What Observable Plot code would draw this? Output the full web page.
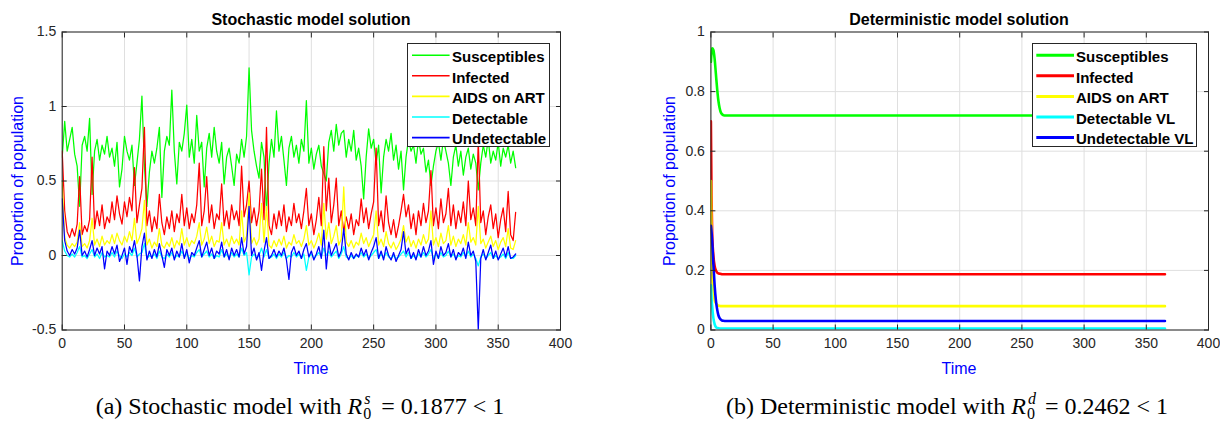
<!DOCTYPE html>
<html><head><meta charset="utf-8">
<script src="https://cdn.jsdelivr.net/npm/d3@7"></script>
<script src="https://cdn.jsdelivr.net/npm/@observablehq/plot@0.6"></script>
<style>
html,body{margin:0;padding:0;background:#fff;}
#root{position:relative;width:1220px;height:422px;overflow:hidden;font-family:"Liberation Sans",Arial,Helvetica,sans-serif;}
.panel{position:absolute;top:0;width:610px;height:422px;}
.panel > svg{position:absolute;left:0;top:0;}
.ctr{position:absolute;transform:translate(-50%,-50%);white-space:nowrap;line-height:1;}
.title{font-weight:bold;font-size:16px;color:#000;}
.axlab{font-size:16px;color:#0000ff;}
.ylab{transform:translate(-50%,-50%) rotate(-90deg);}
.cap{font-family:"Liberation Serif","Times New Roman",serif;font-size:24px;color:#000;}
.ss{display:inline-block;position:relative;width:13px;height:24px;vertical-align:baseline;}
.ss .sup{position:absolute;left:2px;top:1px;font-size:16px;line-height:16px;font-style:italic;}
.ss .sub{position:absolute;left:1px;top:16px;font-size:16px;line-height:16px;}
.legend{position:absolute;background:#fff;border:1px solid #262626;box-sizing:border-box;}
.legend svg.lns{position:absolute;left:0;top:0;}
.legend .tx{position:absolute;font-weight:bold;font-size:15px;color:#000;line-height:1;transform:translateY(-50%);white-space:nowrap;}
</style>
</head><body>
<div id="root">
  <div class="panel" id="pa" style="left:0px"></div>
  <div class="panel" id="pb" style="left:610px"></div>
</div>
<script>
// ---------- shared ticks / names / colours ----------
const xTicks = [0, 50, 100, 150, 200, 250, 300, 350, 400];
const yTicksS = [-0.5, 0, 0.5, 1, 1.5];
const yTicksD = [0, 0.2, 0.4, 0.6, 0.8, 1];
const stochNames = ["Susceptibles", "Infected", "AIDS on ART", "Detectable", "Undetectable"];
const detNames = ["Susceptibles", "Infected", "AIDS on ART", "Detectable VL", "Undetectable VL"];
const seriesColors = ["#00ff00", "#ff0000", "#ffff00", "#00ffff", "#0000ff"];

const stochDays = d3.range(0, 365, 2);
const susceptiblesS = [
0.66,0.90,0.70,0.78,0.86,0.68,0.60,0.33,0.74,0.80,
0.70,0.92,0.41,0.70,0.78,0.64,0.74,0.68,0.80,0.66,
0.72,0.60,0.76,0.46,0.58,0.80,0.70,0.64,0.74,0.47,
0.62,0.78,1.07,0.60,0.33,0.56,0.70,0.62,0.72,0.86,
0.39,0.70,0.80,0.74,1.11,0.70,0.48,0.76,0.70,0.82,
1.01,0.66,0.78,0.62,0.94,0.70,0.76,0.46,0.72,0.82,
0.66,0.86,0.70,0.62,0.76,0.48,0.66,0.72,0.60,0.47,
0.68,0.62,0.78,0.66,0.80,1.26,0.84,0.70,0.60,0.52,
0.76,0.66,0.30,0.62,0.78,0.66,0.97,0.70,0.80,0.64,
0.47,0.72,0.80,0.66,0.74,0.62,0.78,0.70,1.04,0.62,
0.72,0.58,0.68,0.74,0.60,0.55,0.50,0.76,0.84,0.70,
0.88,0.74,0.82,0.84,0.66,0.78,0.70,0.84,0.64,0.72,
0.60,0.38,0.66,0.85,0.72,0.78,0.62,0.74,0.42,0.66,
0.78,0.70,0.82,0.64,0.74,0.58,0.70,0.44,0.66,0.78,
0.70,0.74,0.62,0.78,0.68,0.72,0.56,0.64,0.47,0.60,
0.70,0.76,0.64,0.78,0.70,0.62,0.47,0.66,0.74,0.60,
0.70,0.54,0.66,0.72,0.58,0.68,0.62,0.44,0.62,0.74,
0.66,0.78,0.62,0.70,0.64,0.76,0.60,0.72,0.66,0.74,
0.62,0.70,0.59];
const infectedS = [
0.70,0.30,0.16,0.12,0.18,0.13,0.21,0.53,0.14,0.20,
0.16,0.24,0.66,0.18,0.30,0.20,0.34,0.18,0.26,0.22,
0.36,0.24,0.40,0.28,0.21,0.36,0.26,0.39,0.30,0.59,
0.22,0.34,0.45,0.86,0.20,0.30,0.16,0.26,0.18,0.41,
0.22,0.14,0.26,0.18,0.30,0.16,0.28,0.22,0.41,0.20,
0.32,0.18,0.28,0.22,0.34,0.62,0.20,0.30,0.53,0.22,
0.34,0.18,0.28,0.24,0.48,0.20,0.30,0.18,0.34,0.24,
0.30,0.20,0.60,0.26,0.34,0.50,0.22,0.32,0.20,0.30,
0.58,0.24,0.86,0.20,0.14,0.28,0.18,0.30,0.20,0.34,
0.16,0.26,0.20,0.35,0.22,0.28,0.18,0.30,0.45,0.20,
0.28,0.14,0.24,0.39,0.20,0.73,0.30,0.52,0.22,0.34,
0.52,0.20,0.30,0.16,0.26,0.18,0.28,0.14,0.24,0.20,
0.38,0.22,0.32,0.18,0.28,0.36,0.72,0.20,0.30,0.16,
0.40,0.22,0.14,0.24,0.12,0.20,0.30,0.41,0.26,0.34,
0.18,0.28,0.14,0.30,0.20,0.35,0.22,0.30,0.57,0.20,
0.32,0.18,0.38,0.22,0.28,0.45,0.20,0.34,0.18,0.30,
0.22,0.36,0.20,0.50,0.24,0.32,0.20,0.77,0.22,0.30,
0.14,0.26,0.34,0.18,0.28,0.12,0.24,0.32,0.16,0.43,
0.14,0.10,0.29];
const aidsS = [
0.50,0.12,0.07,0.05,0.08,0.06,0.09,0.22,0.06,0.08,
0.05,0.10,0.25,0.07,0.11,0.06,0.13,0.07,0.10,0.08,
0.14,0.08,0.15,0.10,0.07,0.13,0.09,0.16,0.10,0.25,
0.08,0.12,0.18,0.37,0.07,0.11,0.05,0.09,0.06,0.18,
0.07,0.05,0.09,0.06,0.12,0.05,0.10,0.07,0.18,0.07,
0.12,0.06,0.10,0.08,0.13,0.22,0.07,0.11,0.19,0.08,
0.13,0.06,0.10,0.09,0.22,0.07,0.11,0.06,0.13,0.08,
0.11,0.07,0.30,0.09,0.13,0.42,0.08,0.12,0.07,0.11,
0.35,0.09,0.33,0.07,0.05,0.10,0.06,0.11,0.07,0.13,
0.05,0.09,0.07,0.14,0.08,0.10,0.06,0.11,0.20,0.07,
0.10,0.05,0.09,0.15,0.07,0.35,0.11,0.22,0.08,0.13,
0.20,0.07,0.11,0.46,0.09,0.06,0.10,0.05,0.09,0.07,
0.15,0.08,0.12,0.06,0.10,0.14,0.30,0.07,0.11,0.06,
0.16,0.08,0.05,0.09,0.04,0.07,0.11,0.20,0.09,0.13,
0.06,0.10,0.05,0.11,0.07,0.14,0.08,0.11,0.30,0.07,
0.12,0.06,0.15,0.08,0.10,0.20,0.07,0.13,0.06,0.11,
0.08,0.14,0.07,0.22,0.09,0.12,0.07,0.33,0.08,0.11,
0.05,0.09,0.13,0.06,0.10,0.04,0.09,0.12,0.06,0.18,
0.05,0.04,0.10];
const detectableS = [
0.10,0.03,0.00,-0.01,0.01,-0.01,0.02,0.06,-0.01,0.00,
-0.02,0.01,0.04,-0.01,0.01,-0.02,0.02,-0.01,0.00,-0.01,
0.02,-0.01,0.03,0.00,-0.02,0.01,-0.01,0.02,0.00,0.05,
-0.01,0.01,0.02,0.08,-0.02,0.00,-0.01,0.01,-0.02,0.03,
-0.01,-0.02,0.01,-0.01,0.02,-0.02,0.00,-0.01,0.03,-0.01,
0.01,-0.02,0.00,-0.01,0.02,0.04,-0.01,0.01,0.03,-0.01,
0.01,-0.02,0.00,-0.01,0.04,-0.01,0.01,-0.02,0.02,-0.01,
0.01,-0.01,0.05,0.00,0.02,-0.13,-0.01,0.01,-0.02,0.00,
0.05,-0.01,0.04,-0.02,-0.01,0.01,-0.02,0.01,-0.01,0.02,
-0.02,0.00,-0.01,0.02,-0.01,0.01,-0.02,0.01,-0.10,-0.01,
0.01,-0.02,0.00,0.02,-0.01,0.05,0.00,0.03,-0.01,0.01,
0.03,-0.02,0.01,0.06,-0.01,-0.02,0.00,-0.02,0.00,-0.01,
0.02,-0.01,0.01,-0.02,0.00,0.02,0.04,-0.02,0.01,-0.02,
0.02,-0.01,-0.02,0.00,-0.02,-0.01,0.01,0.03,-0.01,0.02,
-0.02,0.00,-0.02,0.01,-0.01,0.02,-0.01,0.01,0.04,-0.02,
0.01,-0.02,0.02,-0.01,0.00,0.03,-0.01,0.01,-0.02,0.00,
-0.01,0.02,-0.01,0.03,-0.01,0.01,-0.02,-0.07,-0.01,0.01,
-0.02,0.00,0.02,-0.02,0.00,-0.02,-0.01,0.01,-0.02,0.02,
-0.02,-0.02,0.00];
const undetectableS = [
0.38,0.10,0.03,0.00,0.04,0.01,0.05,0.17,0.00,0.03,
-0.01,0.04,0.10,0.00,0.05,0.01,0.06,-0.09,0.03,0.00,
0.06,0.01,0.07,-0.04,0.00,0.05,-0.06,0.06,0.02,0.10,
0.00,-0.17,0.06,0.15,-0.03,0.03,-0.02,0.04,-0.01,0.08,
0.00,-0.08,0.04,0.00,0.05,-0.03,0.03,-0.01,0.08,-0.02,
0.04,-0.05,0.02,0.00,0.05,0.10,-0.01,0.04,0.09,0.00,
0.05,-0.02,0.03,0.01,0.09,-0.01,0.04,-0.03,0.05,0.00,
0.04,-0.01,0.12,0.01,0.06,0.33,0.00,0.05,-0.03,0.02,
-0.10,0.03,0.12,-0.02,0.00,0.04,-0.01,0.03,0.00,0.05,
-0.03,-0.16,0.02,0.06,0.00,0.03,-0.02,0.04,0.08,-0.01,
0.03,-0.03,0.01,0.06,-0.02,0.17,-0.09,0.09,0.00,0.04,
0.08,-0.01,0.03,0.18,0.01,-0.03,0.02,-0.02,0.01,-0.01,
0.05,0.00,0.04,-0.03,0.02,0.06,0.12,-0.02,0.03,-0.03,
0.06,0.00,-0.03,0.02,-0.04,0.00,0.04,0.16,0.01,0.05,
-0.02,0.02,-0.03,0.04,-0.01,0.06,0.00,0.03,0.10,-0.06,
0.03,-0.02,0.06,0.00,0.02,0.08,-0.01,0.04,-0.03,0.02,
0.00,0.05,-0.02,0.09,0.00,0.03,-0.04,-0.50,-0.02,0.04,
-0.03,0.02,0.07,-0.02,0.03,-0.03,0.01,0.05,-0.01,0.06,
-0.02,-0.01,0.01];

// ---------- deterministic model ----------
const detTime = [0, 0.5, 1, 2, 3, 4, 5, 6, 7, 8, 9, 10, 12, 15, 365];
const susceptiblesD = [0.90,0.93,0.945,0.94,0.91,0.86,0.81,0.77,0.745,0.73,0.724,0.721,0.72,0.72,0.72];
const infectedD     = [0.70,0.45,0.33,0.25,0.215,0.20,0.193,0.19,0.189,0.188,0.187,0.187,0.187,0.187,0.187];
const aidsD         = [0.50,0.30,0.20,0.13,0.10,0.09,0.085,0.082,0.081,0.08,0.08,0.08,0.08,0.08,0.08];
const detectableD   = [0.15,0.11,0.08,0.04,0.02,0.01,0.007,0.006,0.005,0.005,0.005,0.005,0.005,0.005,0.005];
const undetectableD = [0.35,0.33,0.30,0.22,0.15,0.10,0.07,0.05,0.04,0.035,0.032,0.031,0.03,0.03,0.03];

const fmt = d => String(d);

function makePlot({marginLeft, marginRight, yDomain, yTicks, series, days, strokeWidth, curve}) {
  return Plot.plot({
    width: 610, height: 360,
    marginLeft, marginRight, marginTop: 31.5, marginBottom: 30.5,
    x: {domain: [0, 400]},
    y: {domain: yDomain},
    style: {fontFamily: '"Liberation Sans", Arial, Helvetica, sans-serif', fontSize: "14px", color: "#262626", background: "transparent", overflow: "visible"},
    marks: [
      Plot.gridX(xTicks, {stroke: "#dfdfdf", strokeOpacity: 1}),
      Plot.gridY(yTicks, {stroke: "#dfdfdf", strokeOpacity: 1}),
      ...series.map((vals, k) => Plot.lineY(vals, {
        x: (d, i) => days[i], y: d => d,
        stroke: seriesColors[k], strokeWidth, curve, clip: true
      })),
      Plot.frame({stroke: "#262626"}),
      Plot.axisX(xTicks, {anchor: "bottom", tickSize: -5, tickFormat: () => "", label: null}),
      Plot.axisX(xTicks, {anchor: "top", tickSize: -5, tickFormat: () => "", label: null}),
      Plot.axisX(xTicks, {anchor: "bottom", tickSize: 0, tickPadding: 8, tickFormat: fmt, label: null}),
      Plot.axisY(yTicks, {anchor: "left", tickSize: -5, tickFormat: () => "", label: null}),
      Plot.axisY(yTicks, {anchor: "right", tickSize: -5, tickFormat: () => "", label: null}),
      Plot.axisY(yTicks, {anchor: "left", tickSize: 0, tickPadding: 6, tickFormat: fmt, label: null})
    ]
  });
}

function addText(panel, cls, x, y, html) {
  const el = document.createElement("div");
  el.className = "ctr " + cls;
  el.style.left = x + "px";
  el.style.top = y + "px";
  el.innerHTML = html;
  panel.appendChild(el);
}

function addLegend(panel, {left, top, width, height, names, lineX0, lineX1, textX, lw}) {
  const box = document.createElement("div");
  box.className = "legend";
  Object.assign(box.style, {left: left + "px", top: top + "px", width: width + "px", height: height + "px"});
  const svg = d3.create("svg").attr("class", "lns").attr("width", width).attr("height", height);
  names.forEach((name, k) => {
    const cy = 11.2 + 20.6 * k;
    svg.append("line")
      .attr("x1", lineX0).attr("x2", lineX1)
      .attr("y1", cy).attr("y2", cy)
      .attr("stroke", seriesColors[k]).attr("stroke-width", lw);
    const tx = document.createElement("div");
    tx.className = "tx";
    Object.assign(tx.style, {left: textX + "px", top: (cy + 0.5) + "px"});
    tx.textContent = name;
    box.appendChild(tx);
  });
  box.appendChild(svg.node());
  panel.appendChild(box);
}

// ---------- panel (a) ----------
const pa = document.getElementById("pa");
pa.appendChild(makePlot({
  marginLeft: 61.7, marginRight: 50, yDomain: [-0.5, 1.5], yTicks: yTicksS,
  series: [susceptiblesS, infectedS, aidsS, detectableS, undetectableS],
  days: stochDays, strokeWidth: 1.25, curve: "linear"
}));
addText(pa, "title", 311, 20, "Stochastic model solution");
addText(pa, "axlab ylab", 17.5, 181, "Proportion of population");
addText(pa, "axlab", 311, 369, "Time");
addText(pa, "cap", 300, 404, '(a) Stochastic model with <i>R</i><span class="ss"><span class="sup">s</span><span class="sub">0</span></span> = 0.1877 &lt; 1');
addLegend(pa, {left: 406.7, top: 43.3, width: 143.3, height: 103.4, names: stochNames, lineX0: 4, lineX1: 41.6, textX: 44.3, lw: 1.6});

// ---------- panel (b) ----------
const pb = document.getElementById("pb");
pb.appendChild(makePlot({
  marginLeft: 100.4, marginRight: 12, yDomain: [0, 1], yTicks: yTicksD,
  series: [susceptiblesD, infectedD, aidsD, detectableD, undetectableD],
  days: detTime, strokeWidth: 2.6, curve: "monotone-x"
}));
addText(pb, "title", 349, 20, "Deterministic model solution");
addText(pb, "axlab ylab", 59.5, 181, "Proportion of population");
addText(pb, "axlab", 349, 369, "Time");
addText(pb, "cap", 337, 404, '(b) Deterministic model with <i>R</i><span class="ss"><span class="sup">d</span><span class="sub">0</span></span> = 0.2462 &lt; 1');
addLegend(pb, {left: 421.7, top: 43.3, width: 165.3, height: 103.4, names: detNames, lineX0: 3.3, lineX1: 41, textX: 43.3, lw: 3});
</script>
</body></html>
